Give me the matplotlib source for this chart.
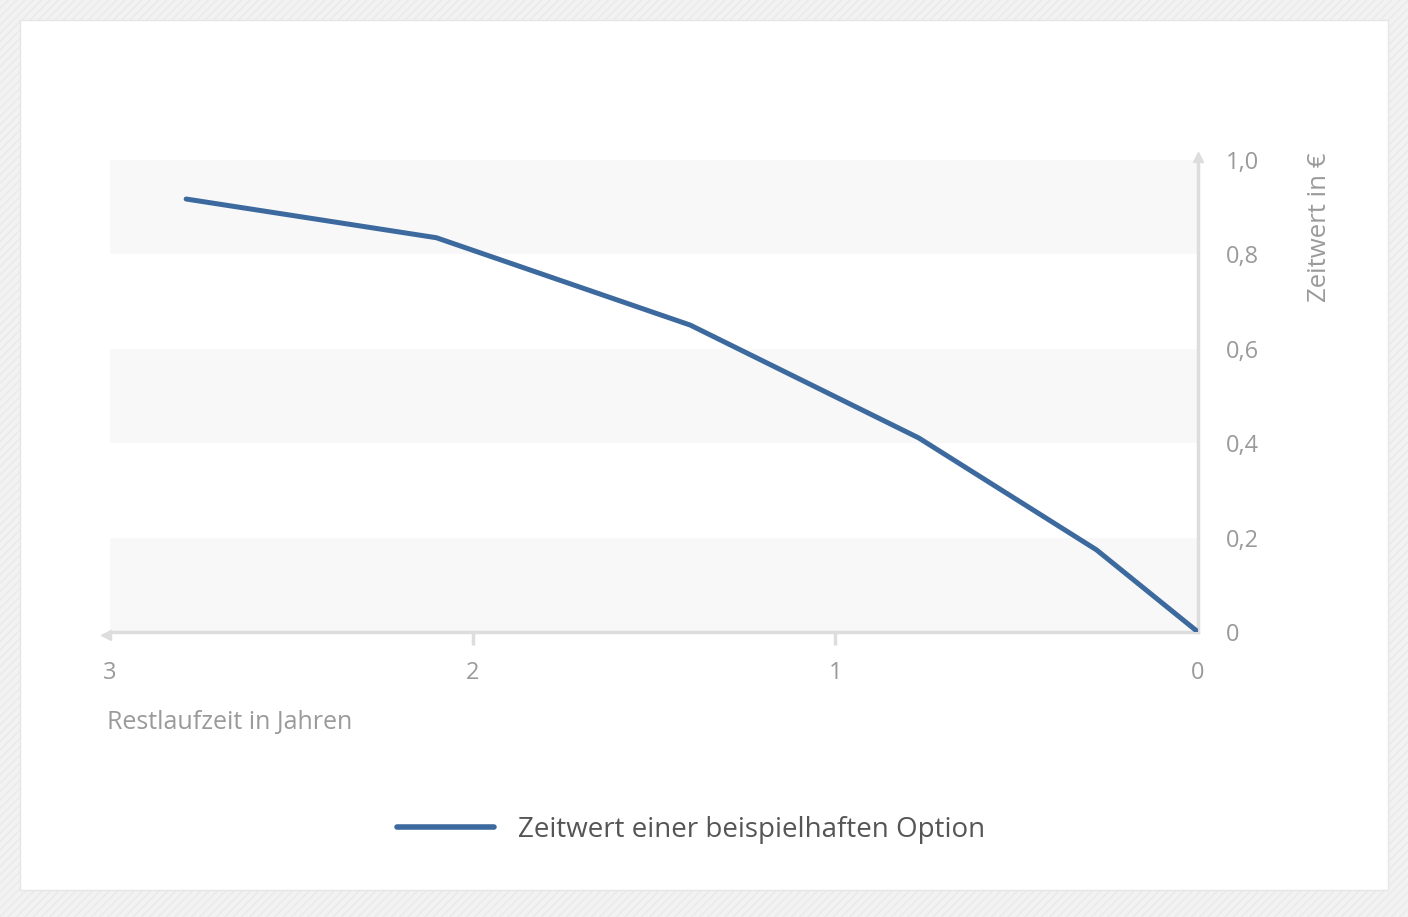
# Zeitwert einer Option in Abhängigkeit der Restlaufzeit
import numpy as np
import matplotlib.pyplot as plt
from matplotlib.patches import Rectangle

# Daten
restlaufzeit = [2.79, 2.10, 1.40, 0.77, 0.28, 0.0]
zeitwert = [0.917, 0.835, 0.650, 0.411, 0.174, 0.0]
x_ticks = [3, 2, 1, 0]
y_ticks = [0, 0.2, 0.4, 0.6, 0.8, 1.0]
y_labels = ['0', '0,2', '0,4', '0,6', '0,8', '1,0']
baender = [(0.0, 0.2), (0.4, 0.6), (0.8, 1.0)]

plt.rcParams['font.family'] = ['Open Sans', 'DejaVu Sans']
grau = '#9a9a9a'
achse = '#dddddd'

fig = plt.figure(figsize=(14.08, 9.17), dpi=100, facecolor='#f2f2f2')
W, H = 1408, 917

# Hintergrund: schraffierter Rand + weiße Karte
bg = Rectangle((0, 0), 1, 1, transform=fig.transFigure, facecolor='#f2f2f2',
               edgecolor='#e9e9e9', hatch='////', linewidth=0, zorder=-10)
fig.patches.append(bg)
card = Rectangle((20 / W, 1 - 890 / H), 1368 / W, 870 / H, transform=fig.transFigure,
                 facecolor='white', edgecolor='#e6e6e6', linewidth=1, zorder=-9)
fig.patches.append(card)

ax = fig.add_axes([110 / W, 1 - 632 / H, 1088 / W, 475 / H])
ax.set_facecolor('none')
ax.set_xlim(3, 0)
ax.set_ylim(0, 1.006)

for lo, hi in baender:
    ax.axhspan(lo, hi, xmin=-0.002, xmax=1, color='#f8f8f8', zorder=0, linewidth=0)

ax.plot(restlaufzeit, zeitwert, color='#3d6a9e', linewidth=3.6,
        solid_capstyle='round', solid_joinstyle='round', zorder=3,
        label='Zeitwert einer beispielhaften Option')

for s in ['top', 'left']:
    ax.spines[s].set_visible(False)
for s in ['bottom', 'right']:
    ax.spines[s].set_color(achse)
    ax.spines[s].set_linewidth(2.5)

# Pfeilspitzen an den Achsenenden
ax.plot([1], [1.0], marker='^', color=achse, markersize=7, transform=ax.transAxes,
        clip_on=False, zorder=2)
ax.plot([-0.004], [-0.006], marker='<', color=achse, markersize=7, transform=ax.transAxes,
        clip_on=False, zorder=2)

ax.xaxis.remove_overlapping_locs = False
ax.set_xticks(x_ticks)
ax.set_xticklabels([str(t) for t in x_ticks])
ax.set_xticks([2, 1], minor=True)
ax.tick_params(axis='x', which='major', length=0, pad=21, labelsize=17, labelcolor=grau)
ax.tick_params(axis='x', which='minor', length=9, width=2.5, color=achse)

ax.yaxis.tick_right()
ax.set_yticks(y_ticks)
ax.set_yticklabels(y_labels)
ax.tick_params(axis='y', length=0, pad=20, labelsize=17, labelcolor=grau)

fig.text(107 / W, 1 - 723 / H, 'Restlaufzeit in Jahren', ha='left', va='center',
         fontsize=18, color=grau)
fig.text(1319 / W, 1 - 152 / H, 'Zeitwert in €', ha='center', va='top', rotation=90,
         fontsize=18.5, color=grau)

leg = fig.legend(loc='center', bbox_to_anchor=(691 / W, 1 - 830 / H), frameon=False,
                 fontsize=20, handlelength=3.5, handletextpad=0.85, labelcolor='#555555')
for h in leg.get_lines():
    h.set_linewidth(4)

fig.savefig('out.png', dpi=100, facecolor=fig.get_facecolor())
